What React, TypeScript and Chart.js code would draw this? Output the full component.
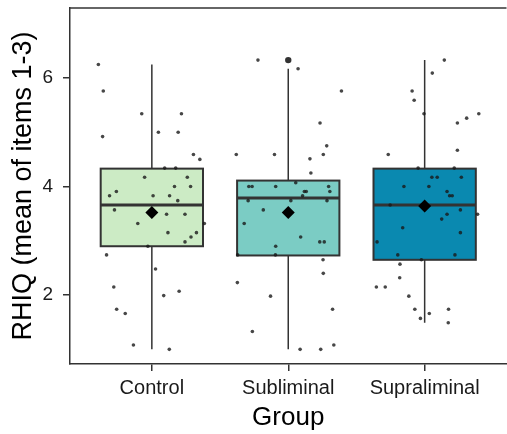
import React, { useEffect, useRef } from 'react';
import { Chart, registerables } from 'chart.js';

Chart.register(...registerables);

// ---- data ----
const categories = ['Control', 'Subliminal', 'Supraliminal'];
const yTickValues = [2, 4, 6];
const yTitle = 'RHIQ (mean of items 1-3)';
const xTitle = 'Group';

const boxQ1 = [2.9, 2.73, 2.65];
const boxMedian = [3.66, 3.79, 3.66];
const boxQ3 = [4.33, 4.11, 4.33];
const whiskerLow = [1.0, 1.0, 1.49];
const whiskerHigh = [6.25, 6.17, 6.33];
const groupMeans = [3.52, 3.52, 3.64];
const outlierGroup = [2];
const outlierValue = [6.33];
const boxColors = ['#ccebc5', '#7bccc4', '#0a89b0'];

const controlX = [0.608, 0.644, 0.926, 1.217, 0.639, 1.048, 1.193, 1.305, 1.352, 1.094, 1.175, 0.947, 1.26, 1.166, 1.284, 0.74, 0.69, 1.009, 1.13, 1.19, 0.726, 1.108, 1.243, 0.897, 1.385, 1.118, 1.327, 1.287, 1.243, 0.971, 0.668, 1.027, 0.721, 1.087, 1.2, 0.742, 0.805, 0.865, 1.128];
const controlY = [6.25, 5.76, 5.34, 5.34, 4.92, 5.0, 5.0, 4.59, 4.5, 4.34, 4.34, 4.17, 4.17, 4.0, 4.0, 3.91, 3.83, 3.83, 3.83, 3.74, 3.57, 3.49, 3.49, 3.32, 3.32, 3.15, 3.15, 3.07, 2.98, 2.9, 2.74, 2.48, 2.15, 1.99, 2.07, 1.74, 1.66, 1.08, 1.0];

const subX = [1.778, 2.072, 2.39, 2.233, 2.282, 1.619, 1.899, 2.257, 2.159, 2.166, 2.055, 1.711, 1.735, 1.908, 2.296, 2.305, 2.118, 2.132, 2.105, 1.706, 2.019, 2.284, 1.817, 1.677, 2.091, 2.231, 2.264, 1.908, 1.629, 1.906, 2.255, 2.257, 1.627, 1.87, 2.325, 1.737, 2.334, 2.087, 2.238];
const subY = [6.33, 6.17, 5.76, 5.17, 4.75, 4.59, 4.59, 4.59, 4.51, 4.25, 4.07, 4.0, 4.0, 4.0, 4.0, 3.91, 3.91, 3.91, 3.83, 3.74, 3.74, 3.74, 3.57, 3.32, 3.07, 2.98, 2.98, 2.9, 2.74, 2.74, 2.65, 2.4, 2.23, 1.98, 1.74, 1.33, 1.08, 1.0, 1.0];

const supX = [3.144, 3.056, 2.908, 2.923, 2.995, 3.397, 3.308, 3.24, 3.24, 2.733, 2.952, 3.217, 3.053, 3.092, 3.269, 2.848, 3.031, 3.164, 3.183, 3.202, 2.747, 3.262, 3.164, 3.388, 3.125, 2.839, 3.262, 2.651, 2.803, 3.222, 2.976, 2.819, 2.817, 2.646, 2.711, 2.884, 2.928, 3.175, 3.034, 2.969, 3.173];
const supY = [6.33, 6.09, 5.76, 5.59, 5.34, 5.34, 5.26, 5.17, 4.67, 4.59, 4.34, 4.34, 4.17, 4.17, 4.17, 4.0, 4.0, 3.91, 3.83, 3.83, 3.66, 3.57, 3.49, 3.49, 3.4, 3.24, 3.15, 2.98, 2.74, 2.74, 2.65, 2.57, 2.32, 2.15, 2.15, 1.98, 1.74, 1.74, 1.66, 1.57, 1.49];

const BOX_WIDTH = 0.75;
const FONT = '"Liberation Sans", Arial, sans-serif';
const LINE = '#333333';

const toPoints = (xs: number[], ys: number[]) => xs.map((x, i) => ({ x, y: ys[i] }));

const boxPlugin = {
  id: 'boxes',
  beforeDatasetsDraw(chart: any) {
    const { ctx, scales } = chart;
    const x = scales.x;
    const y = scales.y;
    ctx.save();
    categories.forEach((_, i) => {
      const pos = i + 1;
      const cx = x.getPixelForValue(pos);
      const left = x.getPixelForValue(pos - BOX_WIDTH / 2);
      const right = x.getPixelForValue(pos + BOX_WIDTH / 2);
      const yq1 = y.getPixelForValue(boxQ1[i]);
      const yq3 = y.getPixelForValue(boxQ3[i]);
      const ymed = y.getPixelForValue(boxMedian[i]);
      const ylo = y.getPixelForValue(whiskerLow[i]);
      const yhi = y.getPixelForValue(whiskerHigh[i]);
      ctx.strokeStyle = LINE;
      ctx.lineWidth = 1.5;
      ctx.beginPath();
      ctx.moveTo(cx, yq3);
      ctx.lineTo(cx, yhi);
      ctx.moveTo(cx, yq1);
      ctx.lineTo(cx, ylo);
      ctx.stroke();
      ctx.fillStyle = boxColors[i];
      ctx.fillRect(left, yq3, right - left, yq1 - yq3);
      ctx.lineWidth = 2;
      ctx.strokeRect(left, yq3, right - left, yq1 - yq3);
      ctx.lineWidth = 3;
      ctx.beginPath();
      ctx.moveTo(left, ymed);
      ctx.lineTo(right, ymed);
      ctx.stroke();
    });
    ctx.restore();
  },
};

const framePlugin = {
  id: 'frame',
  afterDraw(chart: any) {
    const { ctx, chartArea } = chart;
    ctx.save();
    ctx.strokeStyle = LINE;
    ctx.lineWidth = 1.5;
    ctx.beginPath();
    ctx.moveTo(chartArea.left, chartArea.top);
    ctx.lineTo(chartArea.right, chartArea.top);
    ctx.stroke();
    ctx.restore();
  },
};

export default function App() {
  const ref = useRef<HTMLCanvasElement | null>(null);

  useEffect(() => {
    if (!ref.current) return;
    const pointStyle = {
      backgroundColor: 'rgba(25,25,25,0.8)',
      borderWidth: 0,
      pointRadius: 1.8,
      pointHoverRadius: 1.8,
    };
    const chart = new Chart(ref.current, {
      type: 'scatter',
      data: {
        datasets: [
          {
            label: 'mean',
            data: groupMeans.map((m, i) => ({ x: i + 1, y: m })),
            pointStyle: 'rectRot',
            pointRadius: 6.5,
            backgroundColor: '#000',
            borderColor: '#000',
            borderWidth: 0,
            order: 0,
          },
          { label: categories[0], data: toPoints(controlX, controlY), ...pointStyle, order: 1 },
          { label: categories[1], data: toPoints(subX, subY), ...pointStyle, order: 1 },
          { label: categories[2], data: toPoints(supX, supY), ...pointStyle, order: 1 },
          {
            label: 'outliers',
            data: outlierGroup.map((g, i) => ({ x: g, y: outlierValue[i] })),
            backgroundColor: '#333',
            borderWidth: 0,
            pointRadius: 3.2,
            order: 2,
          },
        ] as any,
      },
      options: {
        responsive: false,
        devicePixelRatio: 1,
        animation: false,
        events: [],
        layout: { padding: { top: 8, left: 0, right: 0, bottom: 0 } },
        plugins: { legend: { display: false }, tooltip: { enabled: false } },
        scales: {
          x: {
            type: 'linear',
            min: 0.4,
            max: 3.6,
            afterBuildTicks: (scale: any) => {
              scale.ticks = categories.map((_, i) => ({ value: i + 1 }));
            },
            afterFit: (scale: any) => {
              scale.height = 70;
              scale.paddingLeft = 0;
              scale.paddingRight = 0;
            },
            ticks: {
              autoSkip: false,
              maxRotation: 0,
              padding: 5,
              color: '#1a1a1a',
              font: { family: FONT, size: 20 },
              callback: (v: any) => categories[Math.round(Number(v)) - 1] ?? '',
            },
            grid: { display: true, drawOnChartArea: false, drawTicks: true, tickLength: 7, color: LINE, lineWidth: 1.5 },
            border: { display: true, color: LINE, width: 1.5 },
            title: {
              display: true,
              text: xTitle,
              color: '#000',
              font: { family: FONT, size: 26, lineHeight: 1.2 },
              padding: { top: 0, bottom: 1 },
            },
          },
          y: {
            type: 'linear',
            min: 0.73,
            max: 7.29,
            afterBuildTicks: (scale: any) => {
              scale.ticks = yTickValues.map((v) => ({ value: v }));
            },
            afterFit: (scale: any) => {
              scale.width = 70;
              scale.paddingTop = 0;
              scale.paddingBottom = 0;
            },
            ticks: {
              padding: 10,
              color: '#1a1a1a',
              font: { family: FONT, size: 19 },
              callback: (v: any) => String(v),
            },
            grid: { display: true, drawOnChartArea: false, drawTicks: true, tickLength: 7, color: LINE, lineWidth: 1.5 },
            border: { display: true, color: LINE, width: 1.5 },
            title: {
              display: true,
              text: yTitle,
              color: '#000',
              font: { family: FONT, size: 27, lineHeight: 1.2 },
              padding: { top: 7, bottom: 0 },
            },
          },
        },
      } as any,
      plugins: [boxPlugin, framePlugin],
    });
    return () => chart.destroy();
  }, []);

  return (
    <div
      style={{
        position: 'fixed',
        left: 0,
        top: 0,
        width: 507,
        height: 434,
        overflow: 'hidden',
        background: '#fff',
      }}
    >
      <canvas ref={ref} width={513} height={434} style={{ display: 'block', width: 513, height: 434 }} />
    </div>
  );
}
